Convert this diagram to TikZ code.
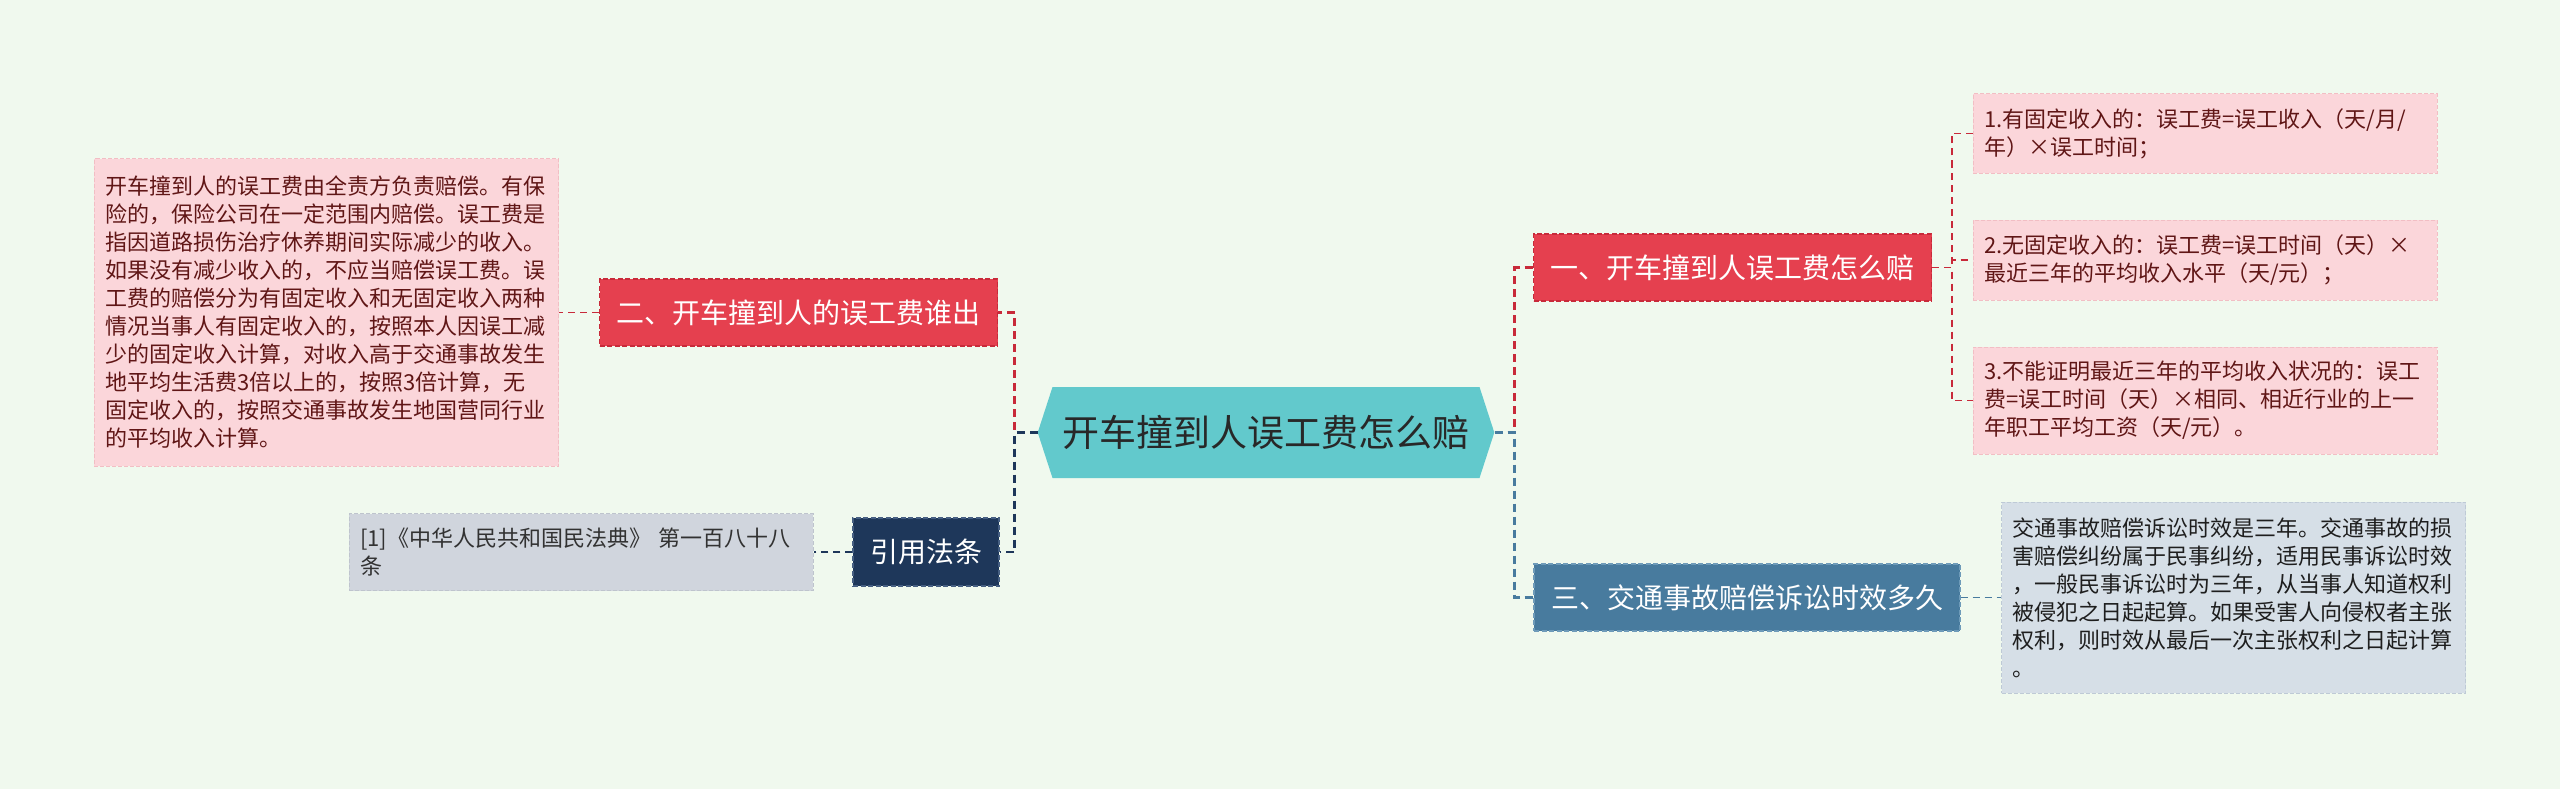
\documentclass[tikz,border=0pt]{standalone}
\usepackage{fontspec}
\newfontfamily\cjk{Noto Sans CJK SC}
\usetikzlibrary{shapes.symbols}
\definecolor{bgc}{RGB}{240,249,238}
\definecolor{hubc}{RGB}{98,201,204}
\definecolor{hubt}{RGB}{40,40,40}
\definecolor{redc}{RGB}{229,64,79}
\definecolor{redd}{RGB}{200,42,58}
\definecolor{pinkc}{RGB}{251,214,218}
\definecolor{pinkd}{RGB}{242,190,196}
\definecolor{pinkt}{RGB}{96,22,22}
\definecolor{navyc}{RGB}{30,55,90}
\definecolor{navyd}{RGB}{70,95,130}
\definecolor{steelc}{RGB}{72,123,158}
\definecolor{steeld}{RGB}{110,155,185}
\definecolor{grayc}{RGB}{208,213,221}
\definecolor{grayd}{RGB}{190,196,205}
\definecolor{blgc}{RGB}{214,223,231}
\definecolor{blgd}{RGB}{190,202,214}
\tikzset{
  hub/.style    ={signal,signal to=west and east,signal pointer angle=144,fill=hubc,text=hubt,
                  font=\cjk\fontsize{37bp}{44bp}\selectfont,inner xsep=10bp,inner ysep=27bp,
                  text height=32bp,text depth=5bp},
  br/.style     ={rectangle,line width=1.2bp,dash pattern=on 5bp off 2.5bp,text=white,
                  font=\cjk\fontsize{28bp}{34bp}\selectfont,inner xsep=17bp,minimum height=67bp},
  redbr/.style  ={br,fill=redc,draw=redd},
  navybr/.style ={br,fill=navyc,draw=navyd},
  bluebr/.style ={br,fill=steelc,draw=steeld},
  leaf/.style   ={rectangle,line width=1bp,dash pattern=on 4bp off 2bp,align=left,
                  font=\cjk\fontsize{22bp}{28bp}\selectfont,inner xsep=11bp,text width=442bp},
  pinkleaf/.style={leaf,fill=pinkc,draw=pinkd,text=pinkt},
  grayleaf/.style={leaf,fill=grayc,draw=grayd,text={rgb,255:red,50;green,50;blue,50}},
  blueleaf/.style={leaf,fill=blgc,draw=blgd,text={rgb,255:red,30;green,30;blue,30}},
  ln/.style     ={line width=2.8bp,dash pattern=on 8bp off 5bp},
  thin/.style   ={line width=1.6bp,dash pattern=on 7bp off 5bp},
}
\begin{document}
\begin{tikzpicture}[x=1bp,y=-1bp]
  \fill[bgc] (0,0) rectangle (2560,789);
  \useasboundingbox (0,0) rectangle (2560,789);

  \node[hub] (hub) at (1266,432.5) {开车撞到人误工费怎么赔};

  \node[redbr] (b2) at (798.5,312.5) {二、开车撞到人的误工费谁出};
  \node[pinkleaf,minimum height=307bp] (l2) at (326.5,312.5) {开车撞到人的误工费由全责方负责赔偿。有保\\
    险的，保险公司在一定范围内赔偿。误工费是\\
    指因道路损伤治疗休养期间实际减少的收入。\\
    如果没有减少收入的，不应当赔偿误工费。误\\
    工费的赔偿分为有固定收入和无固定收入两种\\
    情况当事人有固定收入的，按照本人因误工减\\
    少的固定收入计算，对收入高于交通事故发生\\
    地平均生活费3倍以上的，按照3倍计算，无\\
    固定收入的，按照交通事故发生地国营同行业\\
    的平均收入计算。};

  \node[navybr,minimum height=68bp] (cite) at (926,552) {引用法条};
  \node[grayleaf,minimum height=77bp] (citeleaf) at (581,552) {[1]《中华人民共和国民法典》 第一百八十八\\条};

  \node[redbr] (b1) at (1732.5,267.5) {一、开车撞到人误工费怎么赔};
  \node[pinkleaf,minimum height=79bp] (r1) at (2205,133.5) {1.有固定收入的：误工费=误工收入（天/月/\\年）×误工时间；};
  \node[pinkleaf,minimum height=80bp] (r2) at (2205,260) {2.无固定收入的：误工费=误工时间（天）×\\最近三年的平均收入水平（天/元）；};
  \node[pinkleaf,minimum height=107bp] (r3) at (2205,400.5) {3.不能证明最近三年的平均收入状况的：误工\\费=误工时间（天）×相同、相近行业的上一\\年职工平均工资（天/元）。};

  \node[bluebr] (b3) at (1747,597.5) {三、交通事故赔偿诉讼时效多久};
  \node[blueleaf,minimum height=191bp] (r4) at (2233.5,597.5) {交通事故赔偿诉讼时效是三年。交通事故的损\\
    害赔偿纠纷属于民事纠纷，适用民事诉讼时效\\
    ，一般民事诉讼时为三年，从当事人知道权利\\
    被侵犯之日起起算。如果受害人向侵权者主张\\
    权利，则时效从最后一次主张权利之日起计算\\
    。};

  \draw[ln,redd] (hub.west) -- ++(-23,0) |- (b2.east);
  \draw[ln,navyc] (hub.west) -- ++(-23,0) |- (cite.east);
  \draw[ln,redd] (hub.east) -- ++(20,0) |- (b1.west);
  \draw[ln,steelc] (hub.east) -- ++(20,0) |- (b3.west);
  \draw[thin,redd] (b2.west) -- (l2.east);
  \draw[thin,navyc] (cite.west) -- (citeleaf.east);
  \draw[thin,redd] (b1.east) -- ++(20,0) |- (r1.west);
  \draw[thin,redd] (b1.east) -- ++(20,0) |- (r2.west);
  \draw[thin,redd] (b1.east) -- ++(20,0) |- (r3.west);
  \draw[thin,steelc] (b3.east) -- (r4.west);
\end{tikzpicture}
\end{document}
